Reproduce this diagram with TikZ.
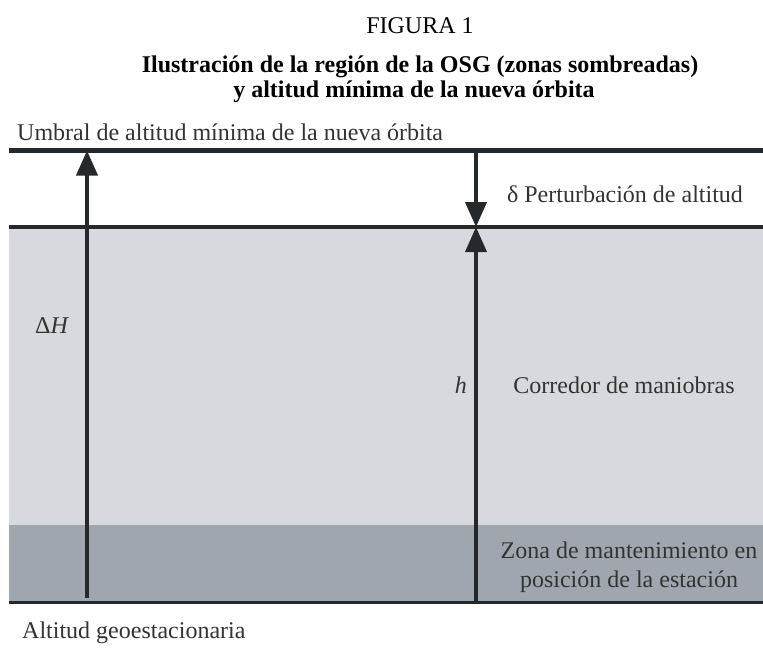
\documentclass[tikz,border=0pt]{standalone}
\usepackage{fontspec}
\setmainfont{Liberation Serif}
\usetikzlibrary{arrows.meta}
\definecolor{lightzone}{HTML}{D8D9DE}
\definecolor{darkzone}{HTML}{A0A6AD}
\definecolor{ink}{HTML}{25292C}
\definecolor{txt}{HTML}{333333}
\begin{document}
\begin{tikzpicture}[x=1pt,y=-1pt,
  lbl/.style={font=\fontsize{24}{28}\selectfont, text=txt, inner sep=0pt},
  ttl/.style={font=\fontsize{24}{26}\selectfont, text=black, inner sep=0pt},
  hline/.style={draw=ink, line width=4.4pt},
  arr/.style={draw=ink, line width=4pt, -{Triangle[length=25pt,width=21pt]}},
]
\useasboundingbox (0,0) rectangle (763,649);
% zones
\fill[lightzone] (9,228) rectangle (763,525);
\fill[darkzone] (9,525) rectangle (763,602);
% coordinates
\coordinate (tl) at (9,150.5);
\coordinate (tr) at (763,150.5);
\coordinate (ml) at (9,227);
\coordinate (mr) at (763,227);
\coordinate (bl) at (9,602);
\coordinate (br) at (763,602);
\coordinate (aBot) at (87,598);
\coordinate (aTop) at (87,150.5);
\coordinate (dTop) at (476,150.5);
\coordinate (dMid) at (476,227);
\coordinate (dBot) at (476,602);
% lines
\draw[hline] (tl) -- (tr);
\draw[hline] (ml) -- (mr);
\draw[draw=ink, line width=3pt] (bl) -- (br);
% arrows
\draw[arr] (aBot) -- (aTop);
\draw[arr] (dTop) -- (dMid);
\draw[arr] (dBot) -- (dMid);
% title
\node[ttl, anchor=base] (fig) at (420,33) {FIGURA 1};
\node[ttl, anchor=base, font=\fontsize{24}{26}\selectfont\bfseries] (t1) at (420,72) {Ilustración de la región de la OSG (zonas sombreadas)};
\node[ttl, anchor=base, font=\fontsize{24}{26}\selectfont\bfseries] (t2) at (414,97) {y altitud mínima de la nueva órbita};
% labels
\node[lbl, anchor=base west] (umbral) at (17,140) {Umbral de altitud mínima de la nueva órbita};
\node[lbl, anchor=base] (delta) at (625,202) {δ Perturbación de altitud};
\node[lbl, anchor=base] (DH) at (52,333) {Δ\textit{H}};
\node[lbl, anchor=base east] (h) at (467,393) {\textit{h}};
\node[lbl, anchor=base] (corr) at (624,393) {Corredor de maniobras};
\node[lbl, anchor=base] (zona1) at (629,558) {Zona de mantenimiento en};
\node[lbl, anchor=base] (zona2) at (629,587) {posición de la estación};
\node[lbl, anchor=base west] (geo) at (22,638) {Altitud geoestacionaria};
\end{tikzpicture}
\end{document}
